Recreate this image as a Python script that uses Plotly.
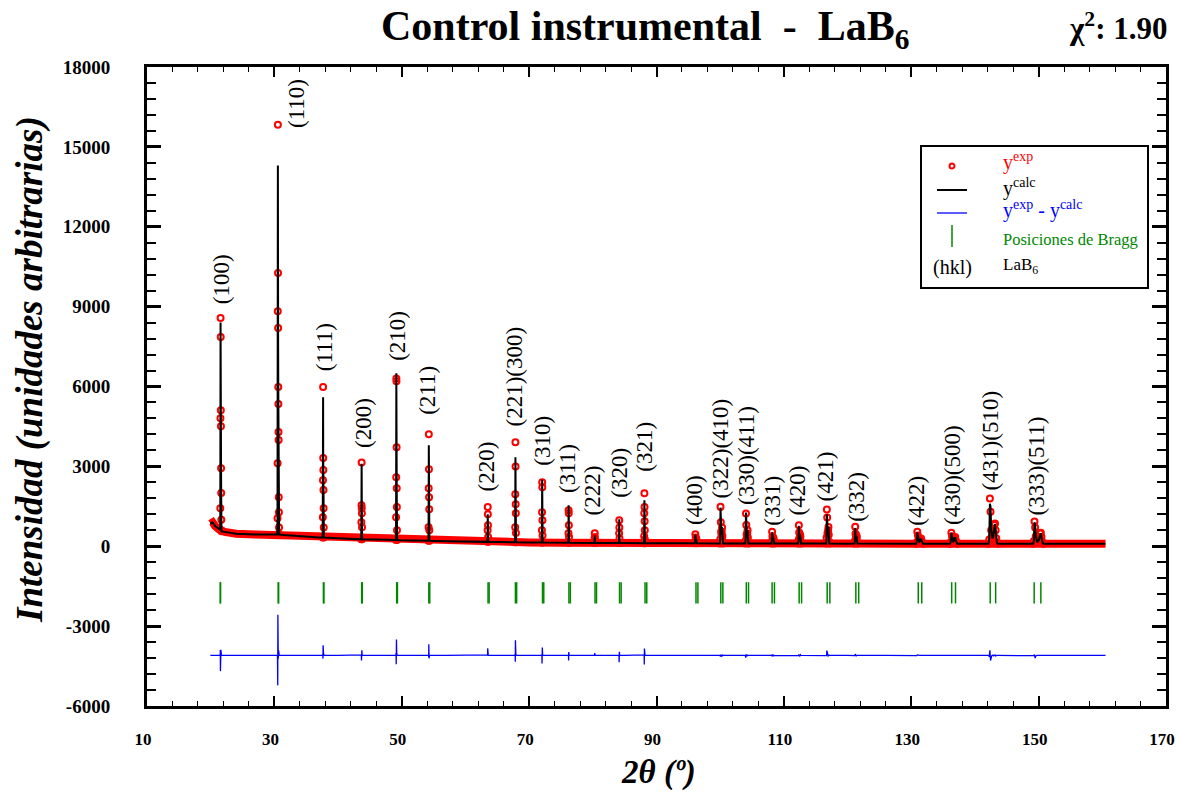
import plotly.graph_objects as go

# ---------------- data ----------------
# background of the observed pattern (2theta, counts)
bg_x = [19.95, 20.3, 20.7, 21.2, 22.2, 24.0, 27.0, 29.8, 31.5, 34.0, 37.0, 40.0, 43.0, 46.0,
        49.8, 53.0, 57.0, 62.0, 66.0, 70.0, 75.0, 80.0, 85.0, 90.0, 95.0, 100.0, 110.0,
        120.0, 130.0, 140.0, 150.0, 160.5]
bg_y = [850, 900, 760, 650, 540, 470, 440, 420, 420, 370, 330, 300, 270, 250,
        230, 210, 190, 170, 155, 145, 135, 125, 120, 115, 110, 105, 100,
        95, 95, 90, 90, 90]

# scan segments across each reflection: start angle, step, observed and calculated counts
prof_start = [21.49, 30.47, 37.59, 43.64, 49.09, 54.19, 63.46, 67.79, 71.99, 76.16, 80.26,
              84.11, 88.04, 96.0, 99.95, 103.95, 108.05, 112.25, 116.65, 121.1, 130.75,
              136.1, 142.15, 149.15]
prof_step = [0.02, 0.02, 0.02, 0.02, 0.02, 0.02, 0.02, 0.02, 0.02, 0.02, 0.02, 0.02, 0.02,
             0.05, 0.05, 0.05, 0.05, 0.05, 0.05, 0.05, 0.1, 0.1, 0.1, 0.1]
prof_obs = [
    [620, 1430, 4810, 8570, 7860, 5110, 4510, 2930, 2000, 1000, 560],
    [440, 1050, 3120, 8830, 15830, 10260, 8200, 5980, 5340, 4290, 3990, 1840, 1280, 700, 440],
    [330, 1090, 2480, 5980, 3310, 2860, 2110, 1430, 700, 330],
    [260, 900, 1540, 3150, 1430, 1240, 710, 260],
    [235, 1090, 2590, 6300, 6200, 3720, 2180, 1470, 600, 235],
    [210, 710, 2180, 4210, 2890, 1840, 1390, 600, 210],
    [165, 600, 1470, 1200, 790, 350, 165],
    [150, 710, 1950, 3910, 3000, 1580, 1240, 500, 150],
    [140, 600, 1280, 2400, 2220, 980, 400, 140],
    [130, 490, 1350, 1240, 790, 350, 130],
    [125, 300, 490, 350, 200, 125],
    [120, 490, 980, 700, 300, 120],
    [115, 380, 1240, 1990, 1470, 940, 600, 250, 115],
    [110, 180, 450, 330, 260, 280, 160, 110],
    [105, 250, 1480, 900, 540, 420, 540, 700, 380, 180, 105],
    [100, 220, 1230, 800, 450, 380, 480, 600, 330, 150, 100],
    [100, 180, 540, 380, 250, 230, 320, 250, 140, 100],
    [100, 230, 790, 520, 330, 300, 430, 360, 170, 100],
    [100, 320, 1380, 1080, 500, 420, 600, 720, 430, 180, 100],
    [100, 200, 730, 470, 300, 290, 400, 330, 160, 100],
    [95, 150, 540, 400, 220, 170, 190, 250, 290, 200, 120, 95],
    [92, 160, 510, 380, 220, 170, 200, 280, 350, 230, 130, 92],
    [90, 250, 1790, 1300, 600, 350, 300, 350, 500, 800, 850, 600, 300, 150, 90],
    [90, 200, 930, 700, 380, 230, 180, 170, 190, 250, 350, 480, 510, 350, 180, 110, 90],
]
prof_calc = [
    [620, 1230, 5400, 8400, 7800, 5200, 4300, 2800, 1900, 950, 560],
    [440, 1100, 3300, 9955, 14300, 10100, 7600, 6100, 5200, 4300, 3800, 1700, 1200, 650, 440],
    [330, 1050, 2600, 5600, 3400, 2800, 2000, 1400, 650, 330],
    [260, 880, 1730, 3100, 1400, 1050, 650, 260],
    [235, 1000, 2920, 6500, 5600, 3600, 2100, 1400, 550, 235],
    [210, 680, 2250, 3790, 2800, 1950, 1300, 560, 210],
    [165, 580, 1200, 1150, 760, 330, 165],
    [150, 650, 2190, 3340, 2900, 1650, 1150, 450, 150],
    [140, 560, 1580, 2500, 1920, 960, 380, 140],
    [130, 460, 1540, 1110, 730, 330, 130],
    [125, 290, 400, 330, 190, 125],
    [120, 750, 1010, 560, 260, 120],
    [115, 360, 1580, 1730, 1400, 900, 560, 230, 115],
    [110, 190, 440, 340, 250, 270, 150, 110],
    [105, 280, 1450, 950, 560, 430, 520, 720, 400, 170, 105],
    [100, 300, 1270, 760, 460, 370, 470, 610, 320, 150, 100],
    [100, 190, 520, 360, 280, 250, 300, 240, 140, 100],
    [100, 240, 770, 500, 330, 320, 440, 340, 170, 100],
    [100, 330, 1200, 1000, 520, 430, 620, 730, 420, 170, 100],
    [100, 210, 680, 460, 310, 300, 390, 320, 150, 100],
    [95, 160, 520, 390, 230, 170, 190, 250, 280, 190, 115, 95],
    [92, 170, 500, 370, 230, 180, 200, 270, 340, 220, 125, 92],
    [90, 300, 1600, 1490, 640, 360, 300, 340, 520, 780, 830, 620, 300, 150, 90],
    [90, 210, 900, 800, 400, 230, 180, 170, 190, 240, 340, 470, 490, 340, 180, 110, 90],
]

# Bragg positions (K-alpha1 and K-alpha2)
bragg_ka1 = [21.5, 30.6, 37.7, 43.7, 49.2, 54.25, 63.55, 67.85, 72.1, 76.25, 80.35, 84.2,
             88.2, 96.2, 100.1, 104.1, 108.15, 112.4, 116.8, 121.3, 131.1, 136.35, 142.4, 149.3]
bragg_ka2 = [21.55, 30.67, 37.78, 43.8, 49.32, 54.4, 63.72, 68.04, 72.3, 76.47, 80.58, 84.45,
             88.47, 96.5, 100.42, 104.45, 108.52, 112.78, 117.22, 121.75, 131.65, 136.95, 143.25, 150.35]
bragg_ymin, bragg_ymax = -2150, -1350
diff_offset = -4100

# reflection labels
hkl_text = ["(100)", "(110)", "(111)", "(200)", "(210)", "(211)", "(220)", "(221)(300)",
            "(310)", "(311)", "(222)", "(320)", "(321)", "(400)", "(322)(410)", "(330)(411)",
            "(331)", "(420)", "(421)", "(332)", "(422)", "(430)(500)", "(431)(510)", "(333)(511)"]
hkl_x = [21.7, 33.5, 37.8, 44.0, 49.3, 54.0, 63.3, 67.7, 72.1, 76.0, 79.9, 84.2, 88.1, 96.0,
         100.0, 104.1, 108.2, 112.1, 116.5, 121.4, 130.8, 136.5, 142.3, 149.7]
hkl_y = [9000, 15640, 6500, 3600, 6900, 4850, 2000, 4440, 2930, 1920, 1090, 1730, 2740, 710,
         1730, 1470, 710, 1090, 1620, 860, 710, 710, 2000, 1090]

x_ticks = [10, 30, 50, 70, 90, 110, 130, 150, 170]
y_ticks = [-6000, -3000, 0, 3000, 6000, 9000, 12000, 15000, 18000]
y_ticktext = ["-6000", "-3000", "0", "3000", "6000", "9000", "12000", "15000", "18000"]

# ---------------- build series ----------------
obs_x, obs_y = [], []
pts = []  # (x, calc, obs)
windows = []
for s, st, ob, ca in zip(prof_start, prof_step, prof_obs, prof_calc):
    xs = [round(s + st * i, 4) for i in range(len(ob))]
    windows.append((xs[0], xs[-1]))
    obs_x += xs
    obs_y += ob
    for xv, c, o in zip(xs, ca, ob):
        pts.append((xv, c, o))
for xv, yv in zip(bg_x, bg_y):
    if not any(a - 0.05 <= xv <= b + 0.05 for a, b in windows):
        pts.append((xv, yv, yv))
pts.sort(key=lambda p: p[0])
calc_x = [p[0] for p in pts]
calc_y = [p[1] for p in pts]
diff_y = [diff_offset + p[2] - p[1] for p in pts]

br_x, br_y = [], []
for b in bragg_ka1 + bragg_ka2:
    br_x += [b, b, None]
    br_y += [bragg_ymin, bragg_ymax, None]

RED = "rgb(255,0,0)"
BLUE = "rgb(0,0,255)"
GREEN = "rgb(0,135,0)"
SERIF = "Liberation Serif"

fig = go.Figure()
fig.add_trace(go.Scatter(x=bg_x, y=bg_y, mode="lines", line=dict(color=RED, width=8),
                         hoverinfo="skip", showlegend=False))
fig.add_trace(go.Scatter(x=obs_x, y=obs_y, mode="markers", name="yexp",
                         marker=dict(symbol="circle-open", size=6, color=RED,
                                     line=dict(width=2, color=RED)), showlegend=False))
fig.add_trace(go.Scatter(x=calc_x, y=calc_y, mode="lines", name="ycalc",
                         line=dict(color="black", width=2), showlegend=False))
fig.add_trace(go.Scatter(x=calc_x, y=diff_y, mode="lines", name="diff",
                         line=dict(color=BLUE, width=1.3), showlegend=False))
fig.add_trace(go.Scatter(x=br_x, y=br_y, mode="lines", name="Bragg",
                         line=dict(color=GREEN, width=1.5), showlegend=False))

# pixel helpers for layout (plot area 147..1166 x 67..706)
PL, PR, PT, PB = 147, 1166, 67, 706
def xp(px):
    return (px - PL) / (PR - PL)
def yp(py):
    return (PB - py) / (PB - PT)

ann = []
for t, x, y in zip(hkl_text, hkl_x, hkl_y):
    ann.append(dict(x=x, y=y, xref="x", yref="y", text=t, textangle=-90, showarrow=False,
                    xanchor="center", yanchor="bottom",
                    font=dict(family=SERIF, size=23, color="black")))

ann.append(dict(x=xp(645), y=yp(29), xref="paper", yref="paper",
                text="Control instrumental\u00a0\u00a0-\u00a0\u00a0LaB<sub>6</sub>",
                showarrow=False, xanchor="center", yanchor="middle",
                font=dict(family=SERIF, size=42, color="black", weight="bold")))
ann.append(dict(x=xp(1118), y=yp(27), xref="paper", yref="paper",
                text="\u03c7<sup>2</sup>: 1.90", showarrow=False, xanchor="center", yanchor="middle",
                font=dict(family=SERIF, size=31, color="black", weight="bold")))
ann.append(dict(x=xp(30), y=yp(370), xref="paper", yref="paper",
                text="Intensidad (unidades arbitrarias)", textangle=-90, showarrow=False,
                xanchor="center", yanchor="middle",
                font=dict(family=SERIF, size=37, color="black", weight="bold", style="italic")))
ann.append(dict(x=xp(658), y=yp(772), xref="paper", yref="paper",
                text="2\u03b8 (\u00ba)", showarrow=False, xanchor="center", yanchor="middle",
                font=dict(family=SERIF, size=33, color="black", weight="bold", style="italic")))

# legend texts
leg_x = xp(1001)
ann.append(dict(x=leg_x, y=yp(161), xref="paper", yref="paper", text="y<sup>exp</sup>",
                showarrow=False, xanchor="left", yanchor="middle",
                font=dict(family=SERIF, size=20, color=RED)))
ann.append(dict(x=leg_x, y=yp(187), xref="paper", yref="paper", text="y<sup>calc</sup>",
                showarrow=False, xanchor="left", yanchor="middle",
                font=dict(family=SERIF, size=20, color="black")))
ann.append(dict(x=leg_x, y=yp(209), xref="paper", yref="paper",
                text="y<sup>exp</sup> - y<sup>calc</sup>",
                showarrow=False, xanchor="left", yanchor="middle",
                font=dict(family=SERIF, size=20, color=BLUE)))
ann.append(dict(x=leg_x, y=yp(239), xref="paper", yref="paper", text="Posiciones de Bragg",
                showarrow=False, xanchor="left", yanchor="middle",
                font=dict(family=SERIF, size=16.5, color=GREEN)))
ann.append(dict(x=xp(952), y=yp(267), xref="paper", yref="paper", text="(hkl)",
                showarrow=False, xanchor="center", yanchor="middle",
                font=dict(family=SERIF, size=20, color="black")))
ann.append(dict(x=leg_x, y=yp(266), xref="paper", yref="paper", text="LaB<sub>6</sub>",
                showarrow=False, xanchor="left", yanchor="middle",
                font=dict(family=SERIF, size=17, color="black")))

shapes = [
    dict(type="rect", xref="paper", yref="paper", x0=xp(921), x1=xp(1148), y0=yp(288), y1=yp(146),
         line=dict(color="black", width=2), fillcolor="white", layer="above"),
    dict(type="circle", xref="paper", yref="paper", xsizemode="pixel", ysizemode="pixel",
         xanchor=xp(952), yanchor=yp(166), x0=-2.5, x1=2.5, y0=-2.5, y1=2.5,
         line=dict(color=RED, width=2)),
    dict(type="line", xref="paper", yref="paper", x0=xp(937), x1=xp(967), y0=yp(190), y1=yp(190),
         line=dict(color="black", width=2)),
    dict(type="line", xref="paper", yref="paper", x0=xp(937), x1=xp(967), y0=yp(213), y1=yp(213),
         line=dict(color=BLUE, width=1.3)),
    dict(type="line", xref="paper", yref="paper", x0=xp(952), x1=xp(952), y0=yp(247), y1=yp(225),
         line=dict(color=GREEN, width=1.5)),
]

tickfont = dict(family=SERIF, size=17, color="black", weight="bold")
fig.update_layout(
    width=1177, height=795,
    margin=dict(l=PL, r=1177 - PR, t=PT, b=795 - PB, autoexpand=False),
    paper_bgcolor="white", plot_bgcolor="white",
    showlegend=False,
    annotations=ann, shapes=shapes,
    xaxis=dict(range=[10, 170], tickmode="array", tickvals=x_ticks,
               ticks="inside", ticklen=10, tickwidth=2, tickcolor="black",
               showline=True, linewidth=3, linecolor="black", mirror="allticks",
               showgrid=False, zeroline=False, tickfont=tickfont, ticklabelstandoff=16,
               ticklabelshift=-4, automargin=False,
               minor=dict(dtick=4, tick0=10, ticks="inside", ticklen=5, tickwidth=1,
                          tickcolor="black", showgrid=False)),
    yaxis=dict(range=[-6000, 18000], tickmode="array", tickvals=y_ticks, ticktext=y_ticktext,
               ticks="inside", ticklen=14, tickwidth=3, tickcolor="black",
               showline=True, linewidth=3, linecolor="black", mirror="allticks",
               showgrid=False, zeroline=False, automargin=False,
               tickfont=dict(family=SERIF, size=19, color="black", weight="bold"),
               ticklabelstandoff=30,
               minor=dict(dtick=600, tick0=0, ticks="inside", ticklen=9, tickwidth=1.5,
                          tickcolor="black", showgrid=False)),
)

fig.write_html("out.html")
